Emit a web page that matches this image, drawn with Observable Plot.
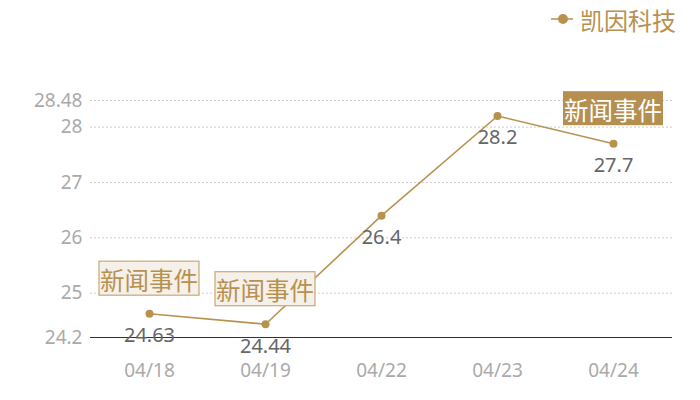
<!DOCTYPE html>
<html><head><meta charset="utf-8">
<script src="https://cdn.jsdelivr.net/npm/d3@7"></script>
<script src="https://cdn.jsdelivr.net/npm/@observablehq/plot@0.6"></script>
<style>
body{margin:0;background:#fff;font-family:"Noto Sans","Noto Sans CJK SC",sans-serif;}
#wrap{position:relative;width:700px;height:400px;}
#legend{position:absolute;top:2px;right:24px;height:34px;display:flex;align-items:center;color:#b8914f;font-size:24px;font-family:"Noto Sans CJK SC",sans-serif;}
#legend svg{margin-right:7px;}
</style></head>
<body><div id="wrap"><div id="legend"><svg width="22" height="14"><line x1="0" y1="7" x2="22" y2="7" stroke="#b8914f" stroke-width="1.5"/><circle cx="12" cy="7" r="5" fill="#b8914f"/></svg>凯因科技</div><div id="chart"></div></div>
<script>
const seriesName = "凯因科技";
const dates = ["04/18","04/19","04/22","04/23","04/24"];
const values = [24.63, 24.44, 26.4, 28.2, 27.7];
const yTicks = [24.2, 25, 26, 27, 28, 28.48];
const eventDates = ["04/18","04/19","04/24"];
const eventKinds = ["light","light","dark"];
const eventLabel = "新闻事件";

const data = dates.map((d,i)=>({date:d, value:values[i]}));
const events = eventDates.map((d,i)=>({date:d, value:values[dates.indexOf(d)], kind:eventKinds[i]}));
const gold = "#b8914f";

const boxMark = (index, scales) => {
  const g = d3.create("svg:g");
  for (const e of events) {
    const cx = scales.x(e.date), cy = scales.y(e.value) - 35;
    g.append("rect").attr("x", cx-50).attr("y", cy-17).attr("width",100).attr("height",34)
      .attr("fill", e.kind==="dark" ? "#b58f50" : "#f5f0ea")
      .attr("stroke", e.kind==="dark" ? "none" : "#c9a873").attr("stroke-width",1.2);
    g.append("text").attr("x", cx).attr("y", cy+1).attr("text-anchor","middle").attr("dominant-baseline","central")
      .attr("font-size",24.5).attr("font-family","'Noto Sans CJK SC',sans-serif")
      .attr("fill", e.kind==="dark" ? "#fff" : "#b8914f").text(eventLabel);
  }
  return g.node();
};

const chart = Plot.plot({
  width:700, height:400,
  marginTop:100, marginBottom:63, marginLeft:90, marginRight:28,
  style:{fontFamily:"'Noto Sans','Noto Sans CJK SC',sans-serif"},
  x:{type:"point", domain:dates, padding:0.5, label:null},
  y:{domain:[24.2,28.48], label:null},
  marks:[
    Plot.gridY(yTicks.slice(1), {stroke:"#ccc", strokeOpacity:1, strokeDasharray:"2,2"}),
    Plot.ruleY([24.2], {stroke:"#333", strokeWidth:1}),
    Plot.axisY(yTicks, {tickSize:0, tickPadding:8, fontSize:19, fill:"#aaa", tickFormat:d=>String(d)}),
    Plot.axisX({tickSize:0, tickPadding:26, fontSize:19, fill:"#aaa"}),
    Plot.line(data, {x:"date", y:"value", stroke:gold, strokeWidth:1.6}),
    Plot.dot(data, {x:"date", y:"value", r:4, fill:gold}),
    Plot.text(data, {x:"date", y:"value", text:d=>String(d.value), dy:22, fontSize:20, fill:"#666"}),
    boxMark
  ]
});
document.getElementById("chart").appendChild(chart);
</script></body></html>
